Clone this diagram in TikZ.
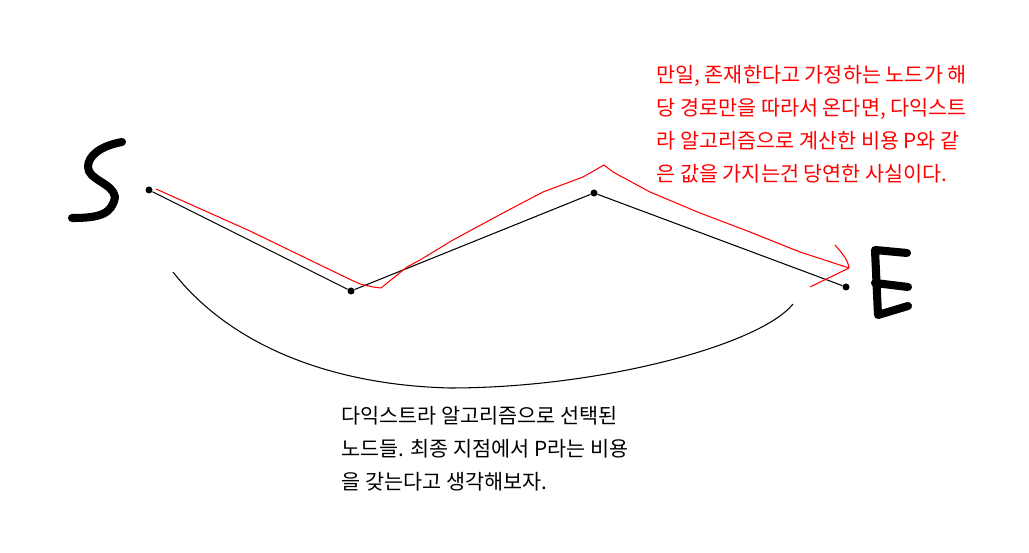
\documentclass[tikz,border=0pt]{standalone}
\usepackage{xcolor}
\usepackage{tikz}
\usepackage{fontspec}
\newfontfamily\kofont{Noto Sans CJK KR}
\definecolor{cink}{HTML}{000000}
\definecolor{cpen}{HTML}{FF0000}
\tikzset{
  dot/.style={circle,fill=cink,draw=none,inner sep=0pt,minimum size=0.14cm},
  thinline/.style={draw=cink,line width=0.6pt},
  penline/.style={draw=cpen,line width=0.6pt,line join=round},
  marker/.style={draw=cink,line width=4.6pt,line cap=round,line join=round},
  note/.style={font=\kofont\fontsize{11.8}{18.8}\selectfont,align=left,inner sep=0pt,anchor=base west}
}

\begin{document}
\begin{tikzpicture}[x=0.02cm,y=-0.02cm]
  \useasboundingbox (0,0) rectangle (1029,553);
  \node[dot] (p1) at (149,190) {};
  \node[dot] (p2) at (351,291) {};
  \node[dot] (p3) at (594,193) {};
  \node[dot] (p4) at (846,287) {};
  \draw[thinline] (p1) -- (p2) -- (p3) -- (p4);
  \draw[marker] (122,142) .. controls (100,146) and (88,156) .. (88,167)
    .. controls (88,180) and (113,183) .. (115,197)
    .. controls (112,214) and (100,218) .. (72,218);
  \draw[marker] (907,253) -- (875,250) -- (878,315) -- (908,306);
  \draw[marker] (875,283) -- (908,287);
  \draw[thinline] (173,272) .. controls (230,345) and (330,385) .. (450,388)
    .. controls (600,388) and (760,345) .. (793,304);
  \draw[penline] (156,189) -- (250,231) -- (347,278) -- (360,284) -- (373,287)
    -- (381,288) -- (407,267) -- (420,260) -- (453,240) -- (503,213)
    -- (543,192) -- (583,177) -- (604,165) -- (613,172) -- (650,192)
    -- (700,213) -- (750,232) -- (800,252) -- (849,268);
  \draw[penline] (835,245) .. controls (842,253) and (848,260) .. (849,268) -- (810,287);
  \node[note,text=cpen] (claim) at (656,182) {만일, 존재한다고 가정하는 노드가 해\\당 경로만을 따라서 온다면, 다익스트\\라 알고리즘으로 계산한 비용 P와 같\\은 값을 가지는건 당연한 사실이다.};
  \node[note,text=cink] (setup) at (341,490) {다익스트라 알고리즘으로 선택된\\노드들. 최종 지점에서 P라는 비용\\을 갖는다고 생각해보자.};
\end{tikzpicture}
\end{document}
